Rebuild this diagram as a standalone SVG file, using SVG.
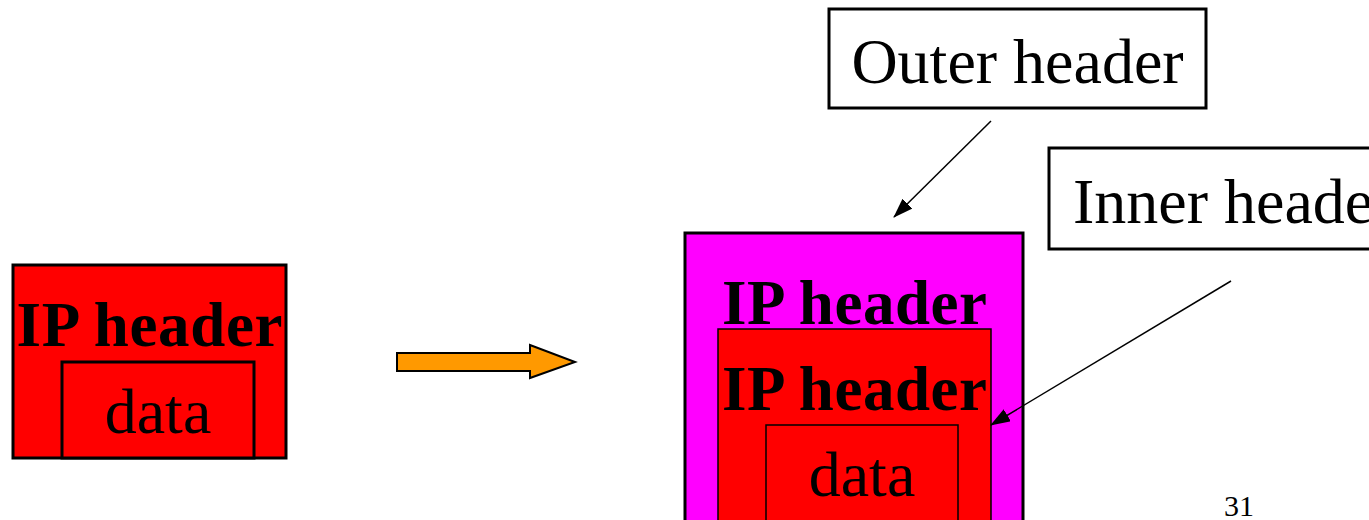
<svg xmlns="http://www.w3.org/2000/svg" width="1369" height="520" viewBox="0 0 1369 520">
<style>
.t{font-family:"Liberation Serif","Times New Roman",serif;fill:#000}
.b{font-weight:bold;font-size:63px}
.r{font-size:64px}
.conn{stroke:#000;stroke-width:1.5;fill:none}
</style>
<defs>
<marker id="ah" markerWidth="20" markerHeight="14" refX="19" refY="7" orient="auto" markerUnits="userSpaceOnUse" viewBox="0 0 20 14">
<path d="M0,0 L20,7 L0,14 Z" fill="#000"/>
</marker>
</defs>
<rect width="1369" height="520" fill="#fff"/>
<g id="left-packet">
<rect x="13" y="265" width="273" height="193" fill="#ff0000" stroke="#000" stroke-width="3"/>
<text class="t b" x="149.5" y="346" text-anchor="middle" textLength="266">IP header</text>
<rect x="62" y="362" width="192" height="96" fill="#ff0000" stroke="#000" stroke-width="3"/>
<text class="t r" x="158" y="433" text-anchor="middle">data</text>
</g>
<g id="big-arrow">
<path d="M397,353 L530,353 L530,345 L575,362 L530,378 L530,371 L397,371 Z" fill="#ff9900" stroke="#000" stroke-width="2"/>
</g>
<g id="tunnel-packet">
<rect x="685" y="233" width="338" height="300" fill="#ff00ff" stroke="#000" stroke-width="3"/>
<text class="t b" x="854.5" y="324" text-anchor="middle" textLength="265">IP header</text>
<rect x="718" y="329" width="273" height="200" fill="#ff0000" stroke="#000" stroke-width="1.5"/>
<text class="t b" x="854.5" y="410" text-anchor="middle" textLength="265">IP header</text>
<rect x="766" y="425" width="192" height="100" fill="#ff0000" stroke="#000" stroke-width="1.5"/>
<text class="t r" x="862" y="496" text-anchor="middle">data</text>
</g>
<g id="outer-label">
<rect x="829" y="9" width="377" height="99" fill="#fff" stroke="#000" stroke-width="3"/>
<text class="t r" x="1017.5" y="83" text-anchor="middle">Outer header</text>
</g>
<g id="inner-label">
<rect x="1049" y="148" width="340" height="101" fill="#fff" stroke="#000" stroke-width="3"/>
<text class="t r" x="1073" y="223">Inner header</text>
</g>
<g id="connectors">
<line class="conn" x1="991" y1="121" x2="894" y2="217" marker-end="url(#ah)"/>
<line class="conn" x1="1231" y1="281" x2="991" y2="425" marker-end="url(#ah)"/>
</g>
<text class="t" x="1239" y="516" font-size="30" text-anchor="middle">31</text>
</svg>
